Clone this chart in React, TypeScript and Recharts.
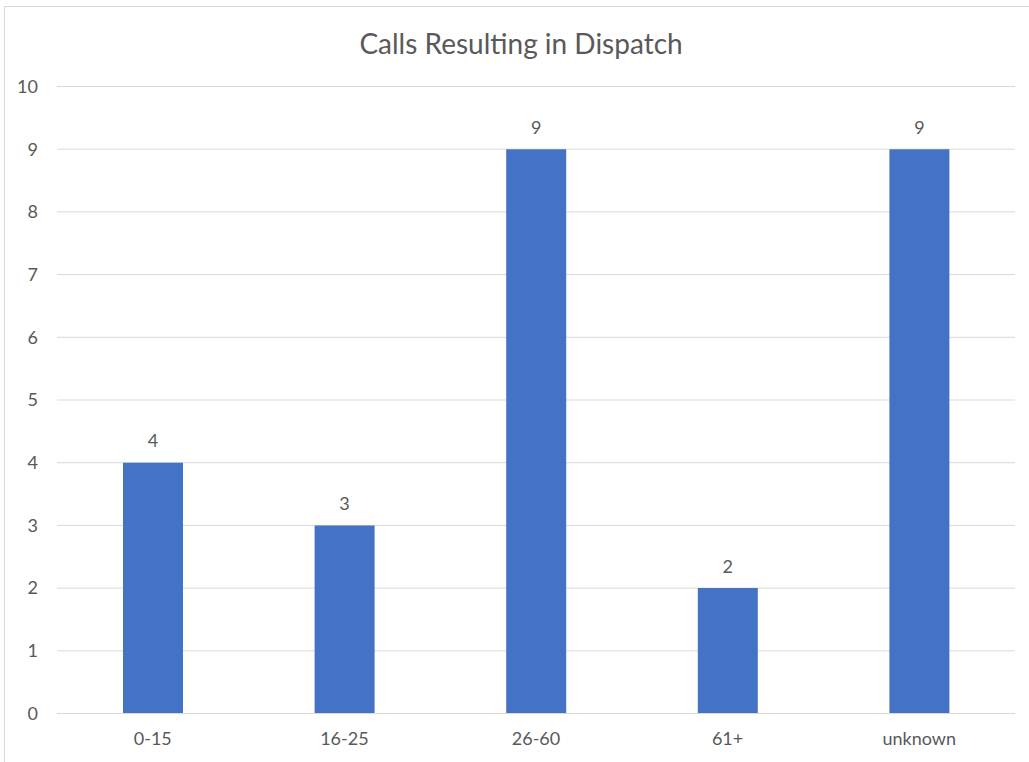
import React from 'react';
import { Bar, BarChart, CartesianGrid, LabelList, XAxis, YAxis } from 'recharts';

// age groups and their dispatch counts
const ageGroups = ['0-15', '16-25', '26-60', '61+', 'unknown'];
const dispatchCounts = [4, 3, 9, 2, 9];
const yTicks = [0, 1, 2, 3, 4, 5, 6, 7, 8, 9, 10];

const data = ageGroups.map((group, i) => ({ group, calls: dispatchCounts[i] }));

const FONT = 'Lato, "Open Sans", sans-serif';
const TEXT = '#595959';

export default function App() {
  return (
    <div
      style={{
        position: 'absolute',
        left: 0,
        top: 0,
        width: 1029,
        height: 762,
        overflow: 'hidden',
        background: '#fff',
        fontFamily: FONT,
      }}
    >
      <div
        style={{
          position: 'absolute',
          left: 4,
          top: 6,
          width: 1060,
          height: 800,
          border: '1px solid #d9d9d9',
        }}
      />
      <div
        style={{
          position: 'absolute',
          left: 0,
          top: 26,
          width: 1042,
          textAlign: 'center',
          fontSize: 28,
          color: TEXT,
          lineHeight: '34px',
        }}
      >
        Calls Resulting in Dispatch
      </div>
      <div style={{ position: 'absolute', left: 0, top: 0 }}>
        <BarChart
          width={1029}
          height={762}
          data={data}
          margin={{ top: 86.5, right: 14, bottom: 18.5, left: 0 }}
        >
          <CartesianGrid vertical={false} stroke="#d9d9d9" />
          <XAxis
            dataKey="group"
            height={30}
            axisLine={{ stroke: '#d9d9d9' }}
            tickLine={false}
            tickSize={0}
            tickMargin={18.5}
            tick={{ fill: TEXT, fontSize: 18, fontFamily: FONT }}
          />
          <YAxis
            width={57}
            domain={[0, 10]}
            ticks={yTicks}
            axisLine={false}
            tickLine={false}
            tickSize={0}
            tickMargin={19}
            tick={{ fill: TEXT, fontSize: 18, fontFamily: FONT }}
          />
          <Bar dataKey="calls" fill="#4472C4" barSize={60} isAnimationActive={false}>
            <LabelList
              dataKey="calls"
              position="top"
              offset={15.5}
              fill={TEXT}
              fontSize={18}
              fontFamily={FONT}
            />
          </Bar>
        </BarChart>
      </div>
    </div>
  );
}
